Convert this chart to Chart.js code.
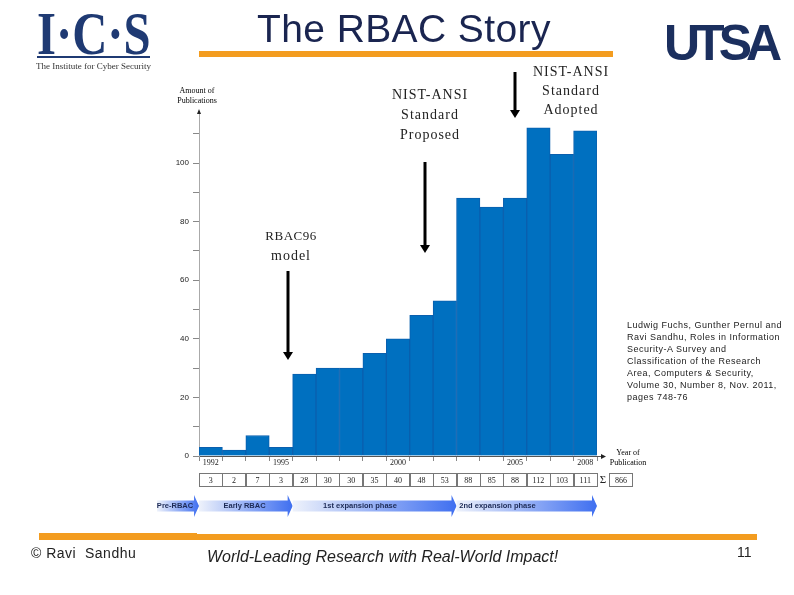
<!DOCTYPE html>
<html>
<head>
<meta charset="utf-8">
<title>The RBAC Story</title>
<script src="https://cdn.jsdelivr.net/npm/chart.js@4"></script>
<style>
  html, body { margin: 0; padding: 0; background: #fff; }
  #slide { position: relative; width: 794px; height: 595px; overflow: hidden; }
  canvas { position: absolute; left: 0; top: 0; }
  .t { position: absolute; white-space: pre; line-height: 1; color: #000; }
  .sans { font-family: "Liberation Sans", sans-serif; }
  .serif { font-family: "Liberation Serif", serif; text-align: center; }
  .bar { position: absolute; background: #f39c1f; }
  .note { font-size: 14px; letter-spacing: 1px; color: #222; }
</style>
</head>
<body>
<div id="slide">
  <canvas id="chart" width="794" height="595"></canvas>

  <div class="bar" style="left:199px;top:51px;width:414px;height:6px"></div>
  <div class="bar" style="left:39px;top:534px;width:718px;height:6px"></div>
  <div class="bar" style="left:39px;top:533px;width:158px;height:1px"></div>

  <div class="t sans" style="left:257px;top:9px;font-size:39px;letter-spacing:0.4px;color:#1a2550">The RBAC Story</div>

  <!-- logos -->
  <div class="t" style="left:37px;top:2px;font-family:'Liberation Serif',serif;font-size:62px;font-weight:bold;color:#1f3a73;transform:scaleX(0.785);transform-origin:0 0">I·C·S</div>
  <div style="position:absolute;left:37px;top:56px;width:113px;height:2px;background:#1f3a73"></div>
  <div class="t serif" style="left:36px;top:62px;width:114px;font-size:9px;color:#333">The Institute for Cyber Security</div>
  <div class="t sans" style="left:664px;top:18px;font-size:50px;font-weight:bold;color:#1b2f5e;letter-spacing:-6px">UTSA</div>
  <div class="t sans" style="left:775px;top:54px;font-size:5px;color:#1b2f5e">®</div>

  <!-- annotations -->
  <div class="t serif note" style="left:370px;top:85px;width:120px;line-height:20px">NIST-ANSI
Standard
Proposed</div>
  <div class="t serif note" style="left:511px;top:62px;width:120px;line-height:19px">NIST-ANSI
Standard
Adopted</div>
  <div class="t serif note" style="left:231px;top:226px;width:120px;line-height:20px"><span style="font-size:13px;letter-spacing:0.5px">RBAC96</span>
model</div>

  <div class="t sans" style="left:627px;top:319px;font-size:9px;line-height:12px;letter-spacing:0.5px;color:#222">Ludwig Fuchs, Gunther Pernul and
Ravi Sandhu, Roles in Information
Security-A Survey and
Classification of the Research
Area, Computers &amp; Security,
Volume 30, Number 8, Nov. 2011,
pages 748-76</div>

  <!-- axis titles -->
  <div class="t serif" style="left:172px;top:86px;width:50px;font-size:8px;line-height:10px">Amount of
Publications</div>
  <div class="t serif" style="left:603px;top:448px;width:50px;font-size:8px;line-height:10px">Year of
Publication</div>

  <!-- footer -->
  <div class="t sans" style="left:31px;top:546px;font-size:14px;letter-spacing:0.5px;color:#222">© Ravi  Sandhu</div>
  <div class="t sans" style="left:207px;top:549px;font-size:16px;font-style:italic;color:#222">World-Leading Research with Real-World Impact!</div>
  <div class="t sans" style="left:737px;top:545px;font-size:14px;color:#222">11</div>
</div>

<script>
// publications per year
const years = ["1992", "1993", "1994", "1995", "1996", "1997", "1998", "1999", "2000",
  "2001", "2002", "2003", "2004", "2005", "2006", "2007", "2008"];
const publications = [3, 2, 7, 3, 28, 30, 30, 35, 40, 48, 53, 88, 85, 88, 112, 103, 111];
const yearLabels = ["1992", "1995", "2000", "2005", "2008"];
const total = "866";

// phases run between year boundaries: first index and last index
const phaseNames = ["Early RBAC", "1st expansion phase", "2nd expansion phase"];
const phaseFrom = [0, 4, 11];
const phaseTo = [3, 10, 16];

// callout arrows, x position and start/end in pixels
const arrowX = [288, 425, 515];
const arrowTop = [271, 162, 72];
const arrowEnd = [360, 253, 118];

const AXIS_W = 30, AXIS_H = 20;

function phaseArrow(ctx, x0, x1, y, name, textX) {
  const g = ctx.createLinearGradient(x0, 0, x1, 0);
  g.addColorStop(0, "#eef2fb");
  g.addColorStop(1, "#3f6ff0");
  ctx.fillStyle = g;
  ctx.beginPath();
  ctx.moveTo(x0, y - 5.5);
  ctx.lineTo(x1 - 5, y - 5.5);
  ctx.lineTo(x1 - 5, y - 11);
  ctx.lineTo(x1, y);
  ctx.lineTo(x1 - 5, y + 11);
  ctx.lineTo(x1 - 5, y + 5.5);
  ctx.lineTo(x0, y + 5.5);
  ctx.closePath();
  ctx.fill();
  ctx.fillStyle = "#1c2a55";
  ctx.font = "bold 7.5px 'Liberation Sans'";
  ctx.textAlign = "center";
  ctx.textBaseline = "middle";
  ctx.fillText(name, textX, y);
}

const slideExtras = {
  id: "slideExtras",
  afterDraw(chart) {
    const { ctx, scales: { x, y } } = chart;
    const step = x.getPixelForValue(1) - x.getPixelForValue(0);
    const left = i => x.getPixelForValue(i) - step / 2;
    const zero = y.getPixelForValue(0);
    ctx.save();

    // axis ends with arrow heads
    ctx.strokeStyle = "#555";
    ctx.fillStyle = "#222";
    ctx.lineWidth = 1;
    ctx.beginPath();
    ctx.moveTo(x.right, zero + 0.5);
    ctx.lineTo(x.right + 6, zero + 0.5);
    ctx.stroke();
    ctx.beginPath();
    ctx.moveTo(x.right + 9, zero + 0.5);
    ctx.lineTo(x.right + 4, zero - 2);
    ctx.lineTo(x.right + 4, zero + 3);
    ctx.fill();
    ctx.beginPath();
    ctx.moveTo(x.left, y.top - 2);
    ctx.lineTo(x.left - 2, y.top + 3);
    ctx.lineTo(x.left + 2, y.top + 3);
    ctx.fill();

    // value table
    const rowTop = 473, rowH = 13;
    ctx.strokeStyle = "#777";
    ctx.font = "8px 'Liberation Serif'";
    ctx.textAlign = "center";
    ctx.textBaseline = "middle";
    ctx.fillStyle = "#222";
    publications.forEach((v, i) => {
      ctx.strokeRect(Math.round(left(i)) + 0.5, rowTop + 0.5, Math.round(step), rowH);
      ctx.fillText(String(v), x.getPixelForValue(i), rowTop + rowH / 2 + 1);
    });
    ctx.font = "11px 'Liberation Serif'";
    ctx.fillText("Σ", x.right + 6, rowTop + rowH / 2 + 1);
    ctx.font = "8px 'Liberation Serif'";
    ctx.strokeRect(Math.round(x.right) + 12.5, rowTop + 0.5, 23, rowH);
    ctx.fillText(total, x.right + 24, rowTop + rowH / 2 + 1);

    // phase band
    const bandY = 506;
    phaseArrow(ctx, x.left - 42, x.left, bandY, "Pre-RBAC", x.left - 24);
    const textMid = [244.5, 360, 497.5];
    phaseNames.forEach((name, i) => {
      const from = left(phaseFrom[i]);
      const to = left(phaseTo[i]) + step;
      phaseArrow(ctx, from, to, bandY, name, textMid[i]);
    });

    // callout arrows
    ctx.strokeStyle = "#000";
    ctx.fillStyle = "#000";
    arrowX.forEach((ax, i) => {
      ctx.lineWidth = 3;
      ctx.beginPath();
      ctx.moveTo(ax, arrowTop[i]);
      ctx.lineTo(ax, arrowEnd[i] - 5);
      ctx.stroke();
      ctx.beginPath();
      ctx.moveTo(ax, arrowEnd[i]);
      ctx.lineTo(ax - 5, arrowEnd[i] - 8);
      ctx.lineTo(ax + 5, arrowEnd[i] - 8);
      ctx.fill();
    });
    ctx.restore();
  }
};

new Chart(document.getElementById("chart"), {
  type: "bar",
  data: {
    labels: years,
    datasets: [{
      data: publications,
      backgroundColor: "#0070c0",
      borderColor: "#0a5fae",
      borderWidth: 1,
      categoryPercentage: 1,
      barPercentage: 1
    }]
  },
  plugins: [slideExtras],
  options: {
    responsive: false,
    animation: false,
    devicePixelRatio: 1,
    layout: { padding: { left: 199 - AXIS_W, right: 197, top: 111, bottom: 139 - AXIS_H } },
    plugins: { legend: { display: false }, tooltip: { enabled: false } },
    scales: {
      x: {
        afterFit(s) { s.height = AXIS_H; },
        border: { color: "#555" },
        grid: { offset: true, drawOnChartArea: false, tickLength: 5, tickColor: "#888" },
        ticks: {
          autoSkip: false,
          maxRotation: 0,
          padding: -3,
          color: "#222",
          font: { family: "Liberation Serif", size: 8 },
          callback(v) {
            const l = this.getLabelForValue(v);
            return yearLabels.includes(l) ? l : "";
          }
        }
      },
      y: {
        min: 0,
        max: 117.75,
        afterFit(s) { s.width = AXIS_W; },
        afterBuildTicks(s) { s.ticks = s.ticks.filter(t => t.value % 10 === 0); },
        border: { color: "#aaa" },
        grid: { drawOnChartArea: false, tickLength: 6, tickColor: "#888" },
        ticks: {
          stepSize: 10,
          padding: 4,
          color: "#222",
          font: { family: "Liberation Sans", size: 8 },
          callback(v) { return v % 20 === 0 ? String(v) : ""; }
        }
      }
    }
  }
});
</script>
</body>
</html>
